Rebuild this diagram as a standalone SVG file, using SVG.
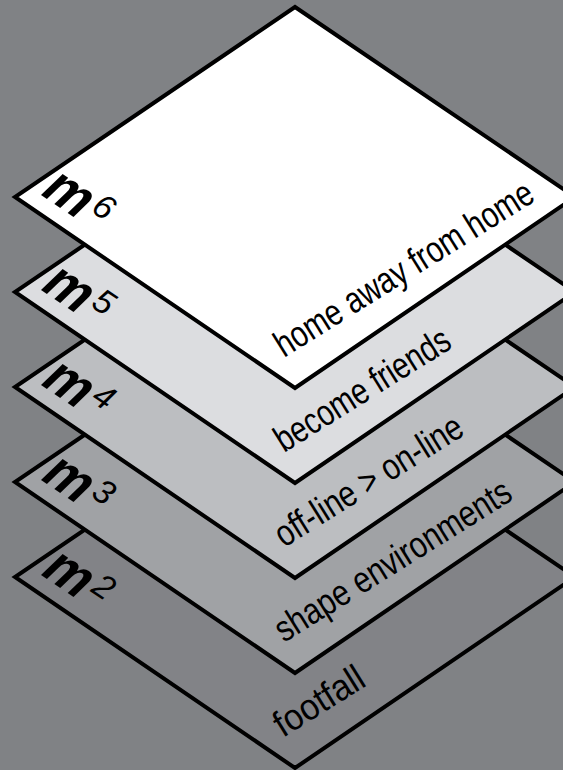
<svg xmlns="http://www.w3.org/2000/svg" width="563" height="770" viewBox="0 0 563 770">
  <style>
    .plate { stroke: #000; stroke-width: 4; stroke-linejoin: miter; }
    .lbl { font-family: "Liberation Sans", Arial, sans-serif; font-weight: bold; font-size: 56px; fill: #000; }
    .sup { font-size: 34px; font-style: italic; font-weight: normal; }
    .cap { font-family: "Liberation Sans", Arial, sans-serif; font-size: 37px; fill: #000; }
  </style>
  <rect x="0" y="0" width="563" height="770" fill="#808285"/>
  <g id="m2">
    <polygon class="plate" fill="#828387" points="295,387 575,577 295,768 15,577"/>
    <g transform="translate(38,573) rotate(34)">
      <text class="lbl" transform="skewX(-12)" textLength="46" lengthAdjust="spacingAndGlyphs">m</text>
      <text class="lbl sup" x="53" y="-14">2</text>
    </g>
    <text class="cap" transform="translate(283,738) rotate(-32)" textLength="100" lengthAdjust="spacingAndGlyphs">footfall</text>
  </g>
  <g id="m3">
    <polygon class="plate" fill="#a0a2a5" points="295,292 575,482 295,673 15,482"/>
    <g transform="translate(38,478) rotate(34)">
      <text class="lbl" transform="skewX(-12)" textLength="46" lengthAdjust="spacingAndGlyphs">m</text>
      <text class="lbl sup" x="53" y="-14">3</text>
    </g>
    <text class="cap" transform="translate(284,643) rotate(-32)" textLength="272" lengthAdjust="spacingAndGlyphs">shape environments</text>
  </g>
  <g id="m4">
    <polygon class="plate" fill="#bcbec1" points="295,197 575,387 295,578 15,387"/>
    <g transform="translate(38,383) rotate(34)">
      <text class="lbl" transform="skewX(-12)" textLength="46" lengthAdjust="spacingAndGlyphs">m</text>
      <text class="lbl sup" x="53" y="-14">4</text>
    </g>
    <text class="cap" transform="translate(284,548) rotate(-32)" textLength="215" lengthAdjust="spacingAndGlyphs">off-line &gt; on-line</text>
  </g>
  <g id="m5">
    <polygon class="plate" fill="#dcdde0" points="295,102 575,292 295,483 15,292"/>
    <g transform="translate(38,288) rotate(34)">
      <text class="lbl" transform="skewX(-12)" textLength="46" lengthAdjust="spacingAndGlyphs">m</text>
      <text class="lbl sup" x="53" y="-14">5</text>
    </g>
    <text class="cap" transform="translate(284,453) rotate(-32)" textLength="200" lengthAdjust="spacingAndGlyphs">become friends</text>
  </g>
  <g id="m6">
    <polygon class="plate" fill="#ffffff" points="295,7 575,197 295,388 15,197"/>
    <g transform="translate(38,193) rotate(34)">
      <text class="lbl" transform="skewX(-12)" textLength="46" lengthAdjust="spacingAndGlyphs">m</text>
      <text class="lbl sup" x="53" y="-14">6</text>
    </g>
    <text class="cap" transform="translate(284,358) rotate(-32)" textLength="298" lengthAdjust="spacingAndGlyphs">home away from home</text>
  </g>
</svg>
